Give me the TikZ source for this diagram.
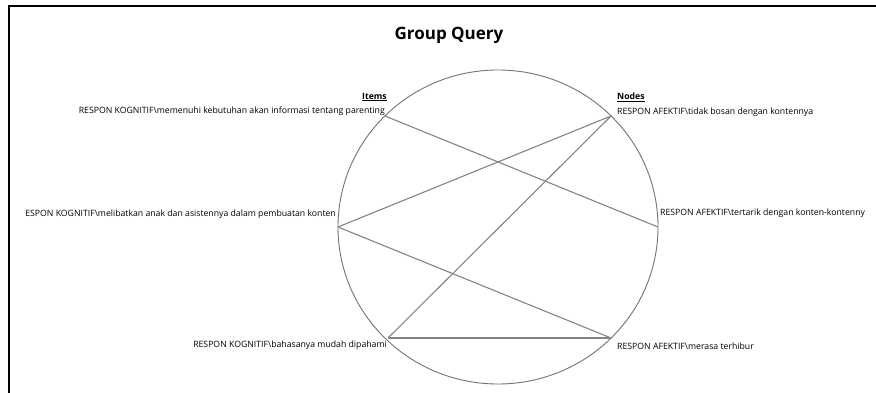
\documentclass[tikz,border=0pt]{standalone}
\usepackage{fontspec}
\setmainfont{Open Sans}
\begin{document}
\begin{tikzpicture}[x=1pt,y=-1pt,
  lbl/.style={inner sep=0pt, font=\fontsize{8.7}{10}\selectfont},
  hdr/.style={inner sep=0pt, font=\fontsize{8.7}{10}\selectfont\bfseries},
  link/.style={draw=black!48, line width=1.1pt},
  ring/.style={draw=black!55, line width=0.9pt},
  frame/.style={draw=black, line width=1.6pt}]
\useasboundingbox (0,0) rectangle (876,393);
\fill[white] (0,0) rectangle (876,393);
\begin{scope}
\clip (0,0) rectangle (876,393);
\draw[frame] (9,393) -- (9,6) -- (876,6);
\node[font=\fontsize{17}{20}\selectfont\bfseries, inner sep=0pt] (title) at (449,35) {Group Query};
\coordinate (c) at (498,227);
\draw[ring] (c) ellipse [x radius=160, y radius=157];
\coordinate (i1) at (385,116);
\coordinate (i2) at (338,227);
\coordinate (i3) at (388,338);
\coordinate (n1) at (611,116);
\coordinate (n2) at (658,227);
\coordinate (n3) at (611,338);
\draw[link] (i1) -- (n2);
\draw[link] (i2) -- (n1);
\draw[link] (i2) -- (n3);
\draw[link] (i3) -- (n1);
\draw[link] (i3) -- (n3);
\node[hdr, anchor=east] (items) at (387,97) {\underline{Items}};
\node[hdr, anchor=west] (nodes) at (617,97) {\underline{Nodes}};
\node[lbl, anchor=east] (l1) at (385,111) {RESPON KOGNITIF\textbackslash memenuhi kebutuhan akan informasi tentang parenting};
\node[lbl, anchor=east] (l3) at (387,345) {RESPON KOGNITIF\textbackslash bahasanya mudah dipahami};
\node[lbl, anchor=west] (r1) at (617,112) {RESPON AFEKTIF\textbackslash tidak bosan dengan kontennya};
\node[lbl, anchor=west] (r3) at (617,346) {RESPON AFEKTIF\textbackslash merasa terhibur};
\end{scope}
\begin{scope}
\clip (0,0) rectangle (864,393);
\node[lbl, anchor=west] (r2) at (660,213) {RESPON AFEKTIF\textbackslash tertarik dengan konten-kontennya};
\end{scope}
\begin{scope}
\clip (25,0) rectangle (876,393);
\node[lbl, anchor=east] (l2) at (336,214) {RESPON KOGNITIF\textbackslash melibatkan anak dan asistennya dalam pembuatan konten};
\end{scope}
\end{tikzpicture}
\end{document}
